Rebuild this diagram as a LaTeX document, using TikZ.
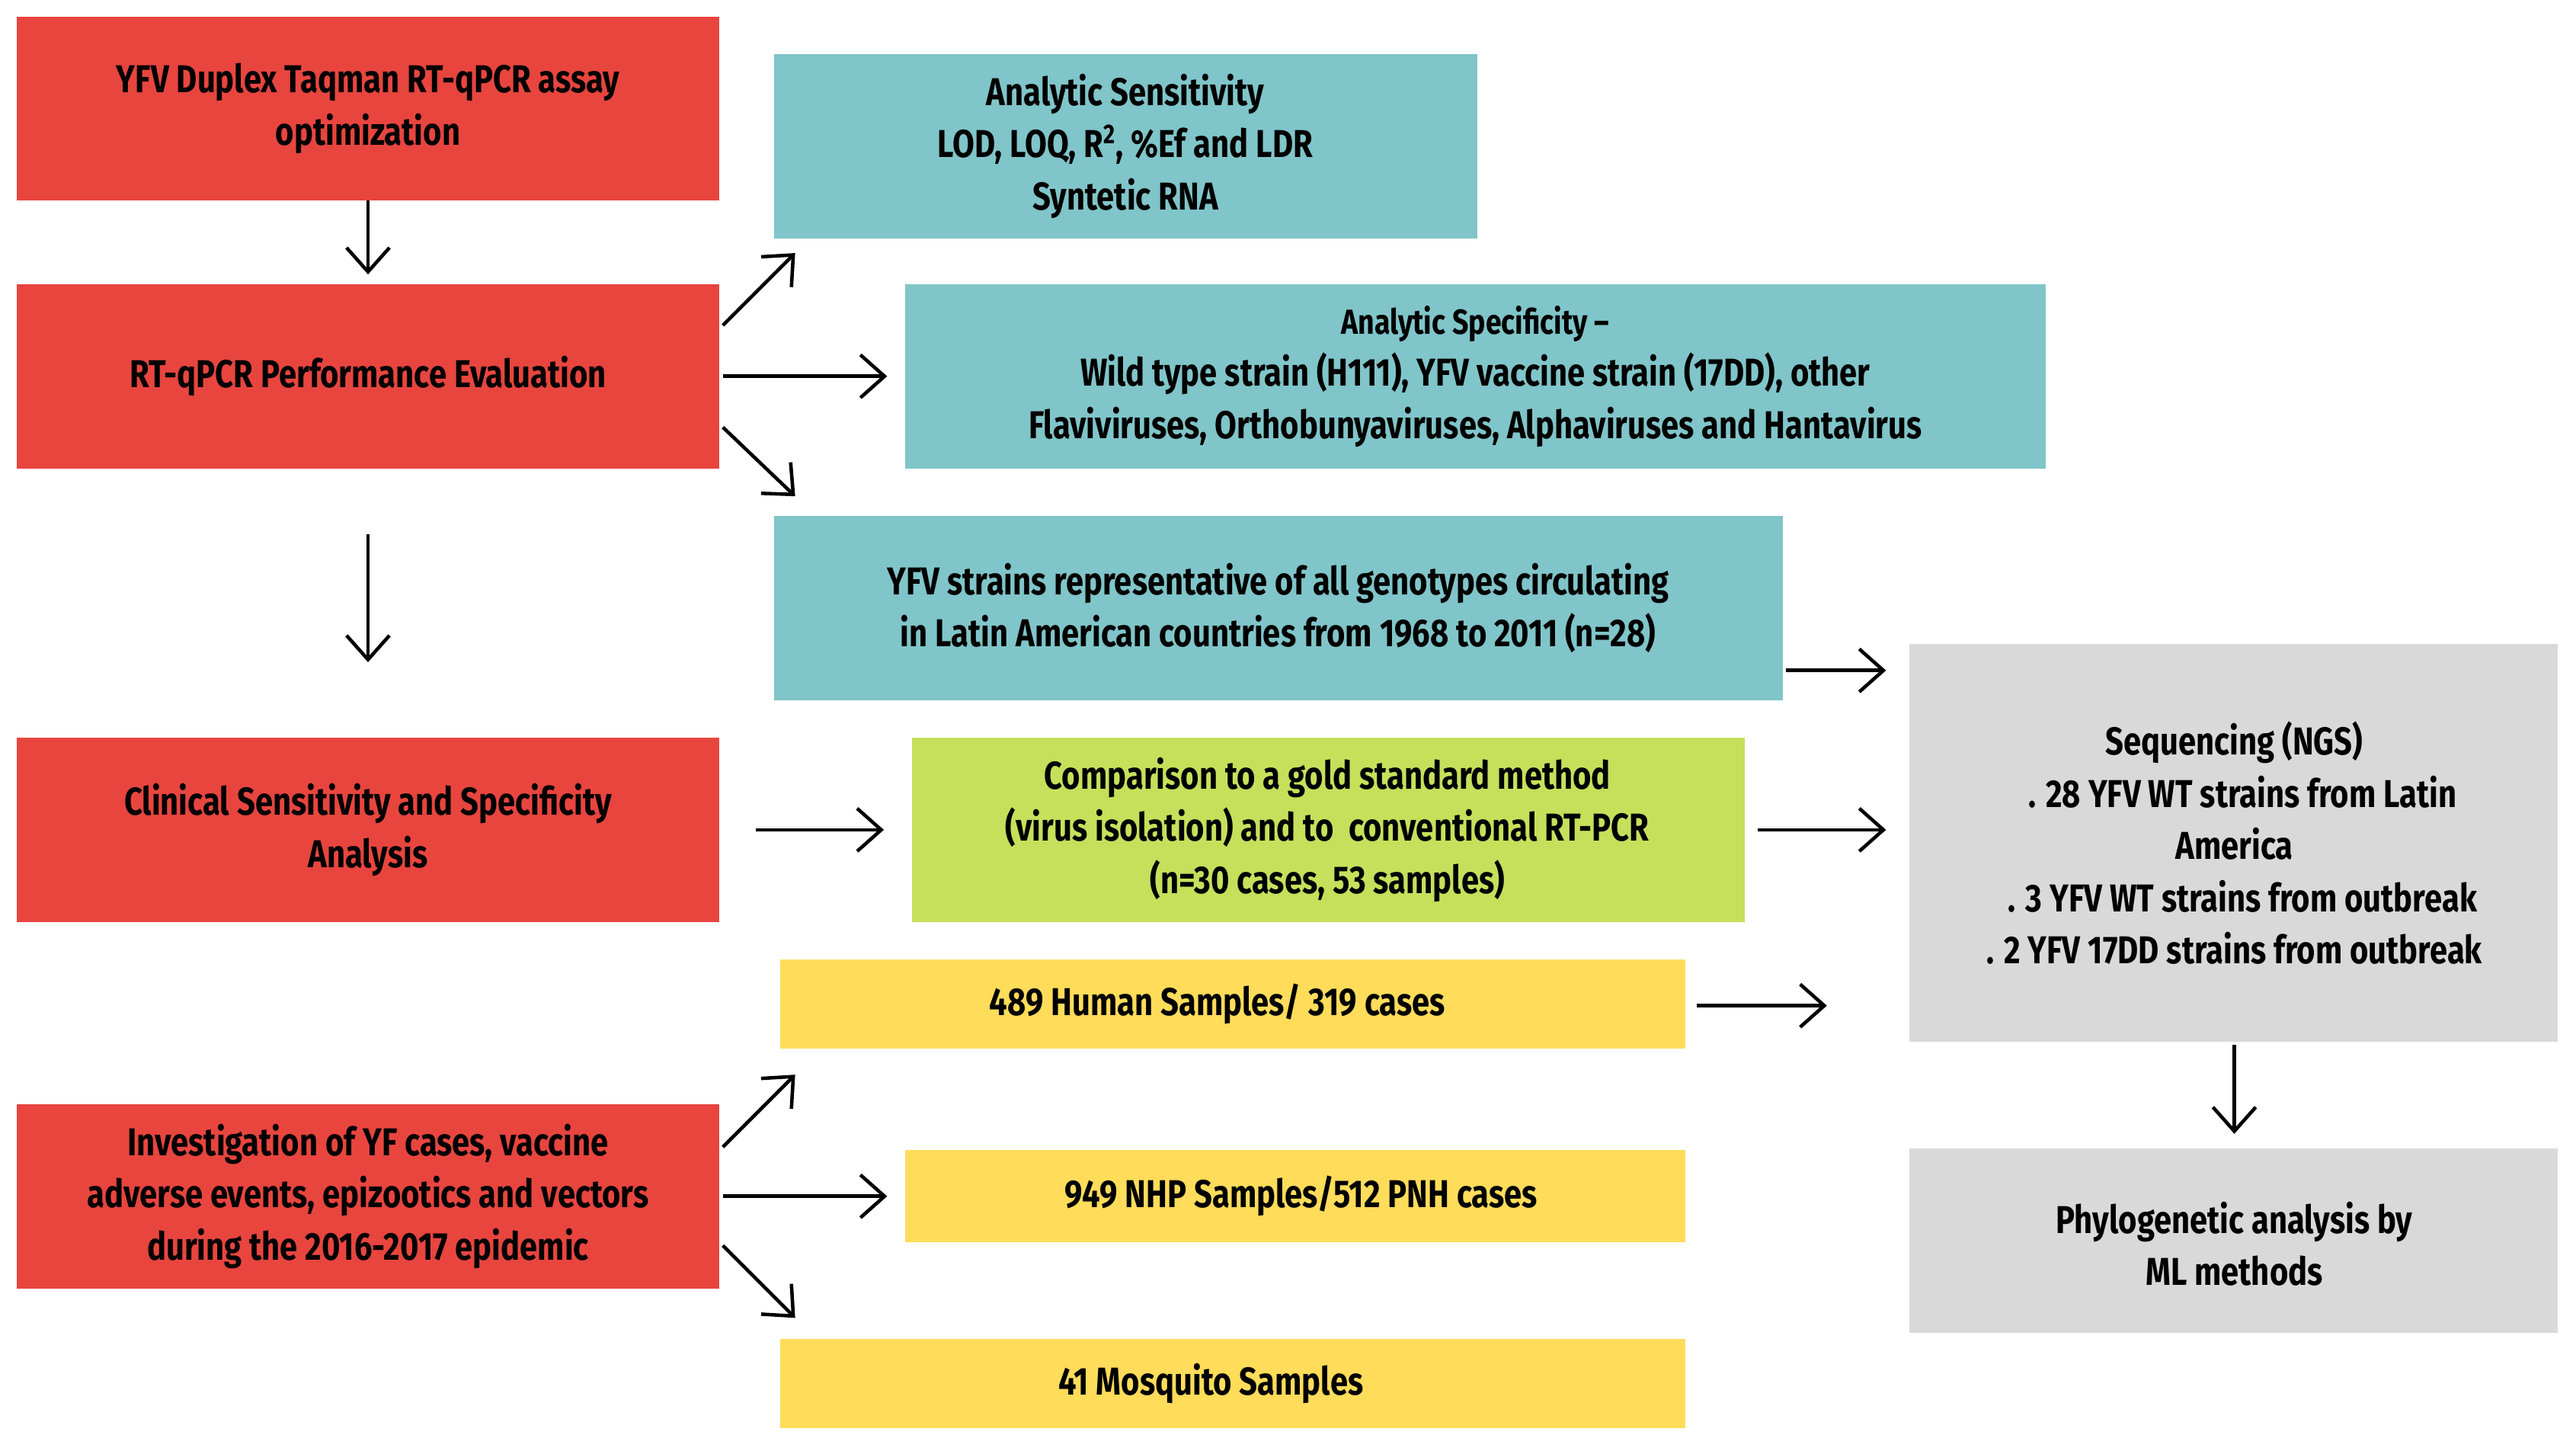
\documentclass[tikz,border=0pt]{standalone}
\usepackage{fontspec}
\setmainfont{Fira Sans}[FakeStretch=0.82]
\usetikzlibrary{positioning,arrows.meta}
\definecolor{boxred}{HTML}{E8453F}
\definecolor{boxteal}{HTML}{80C5C9}
\definecolor{boxgreen}{HTML}{C6E05B}
\definecolor{boxyellow}{HTML}{FFDC5A}
\definecolor{boxgray}{HTML}{D9D9D9}
\begin{document}
\begin{tikzpicture}[x=0.02156cm, y=-0.02156cm, >={Straight Barb[length=9pt,width=16pt]},
  every node/.style={font=\fontsize{14.5}{19.5}\selectfont\bfseries, align=center, inner sep=0pt},
  box/.style={draw=none, minimum width=#1*0.02156cm},
  arr/.style={->, line width=1.3pt}]
\useasboundingbox (0,0) rectangle (1568,883);
% Left column
\fill [boxred] (10,10) rectangle (438,122);
\node (opt) at (224,66) {YFV Duplex Taqman RT-qPCR assay\\optimization};
\fill [boxred] (10,173) rectangle (438,285);
\node (perf) at (224,229) {RT-qPCR Performance Evaluation};
\fill [boxred] (10,449) rectangle (438,561);
\node (clin) at (224,505) {Clinical Sensitivity and Specificity\\Analysis};
\fill [boxred] (10,672) rectangle (438,784);
\node (inv) at (224,728) {Investigation of YF cases, vaccine\\adverse events, epizootics and vectors\\during the 2016-2017 epidemic};
% Middle column
\fill [boxteal] (471,33) rectangle (899,145);
\node (sens) at (685,89) {Analytic Sensitivity\\LOD, LOQ, R\textsuperscript{2}, \%Ef and LDR\\Syntetic RNA};
\fill [boxteal] (551,173) rectangle (1245,285);
\node (spec) at (898,229) {\fontsize{13}{17.5}\selectfont Analytic Specificity --\\Wild type strain (H111), YFV vaccine strain (17DD), other\\Flaviviruses, Orthobunyaviruses, Alphaviruses and Hantavirus};
\fill [boxteal] (471,314) rectangle (1085,426);
\node (strains) at (778,370) {YFV strains representative of all genotypes circulating\\in Latin American countries from 1968 to 2011 (n=28)};
\fill [boxgreen] (555,449) rectangle (1062,561);
\node (gold) at (808,505) {Comparison to a gold standard method\\(virus isolation) and to~ conventional RT-PCR\\(n=30 cases, 53 samples)};
\fill [boxyellow] (475,584) rectangle (1026,638);
\node (human) at (741,611) {489 Human Samples/ 319 cases};
\fill [boxyellow] (551,700) rectangle (1026,756);
\node (nhp) at (792,728) {949 NHP Samples/512 PNH cases};
\fill [boxyellow] (475,815) rectangle (1026,869);
\node (mosq) at (737,842) {41 Mosquito Samples};
% Right column
\fill [boxgray] (1162,392) rectangle (1557,634);
\node (ngs) at (1360,513) {Sequencing (NGS)\\\phantom{x}. 28 YFV WT strains from Latin\\America\\\phantom{x}. 3 YFV WT strains from outbreak\\. 2 YFV 17DD strains from outbreak};
\fill [boxgray] (1162,699) rectangle (1557,811);
\node (phylo) at (1360,757) {Phylogenetic analysis by\\ML methods};
% Free ends
\coordinate (a1) at (224,167);
\coordinate (p0) at (440,198); \coordinate (p1) at (484,154);
\coordinate (p2) at (440,229); \coordinate (p3) at (540,229);
\coordinate (p4) at (440,260); \coordinate (p5) at (484,302);
\coordinate (d0) at (224,325); \coordinate (d1) at (224,403);
\coordinate (c0) at (460,505); \coordinate (c1) at (538,505);
\coordinate (s0) at (1087,408); \coordinate (s1) at (1148,408);
\coordinate (g0) at (1070,505); \coordinate (g1) at (1148,505);
\coordinate (h0) at (1033,612); \coordinate (h1) at (1112,612);
\coordinate (i0) at (440,698); \coordinate (i1) at (484,654);
\coordinate (i2) at (440,728); \coordinate (i3) at (540,728);
\coordinate (i4) at (440,758); \coordinate (i5) at (484,802);
\coordinate (n0) at (1360,636); \coordinate (n1) at (1360,690);
% Arrows
\draw [arr] (224,122) -- (a1);
\draw [arr] (p0) -- (p1);
\draw [arr] (p2) -- (p3);
\draw [arr] (p4) -- (p5);
\draw [arr] (d0) -- (d1);
\draw [arr] (c0) -- (c1);
\draw [arr] (s0) -- (s1);
\draw [arr] (g0) -- (g1);
\draw [arr] (h0) -- (h1);
\draw [arr] (i0) -- (i1);
\draw [arr] (i2) -- (i3);
\draw [arr] (i4) -- (i5);
\draw [arr] (n0) -- (n1);
\end{tikzpicture}
\end{document}
